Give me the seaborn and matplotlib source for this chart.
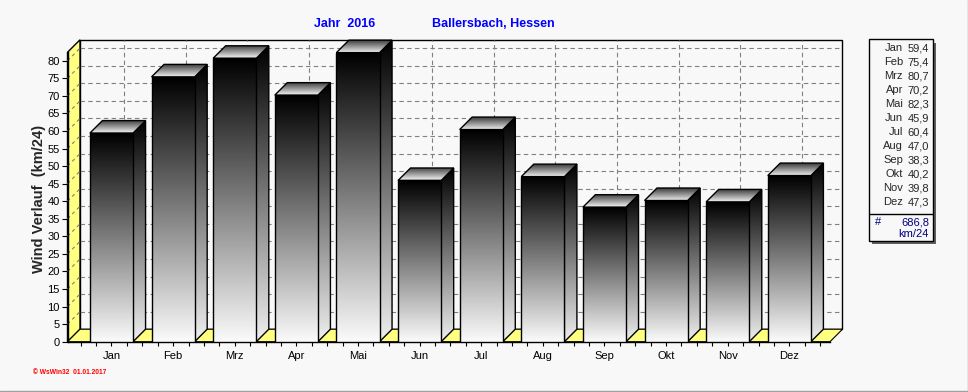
import numpy as np
import pandas as pd
import seaborn as sns
import matplotlib.pyplot as plt
from matplotlib.colors import LinearSegmentedColormap
from matplotlib.patches import Polygon, Rectangle
from matplotlib.lines import Line2D

# data
months = ['Jan', 'Feb', 'Mrz', 'Apr', 'Mai', 'Jun', 'Jul', 'Aug', 'Sep', 'Okt', 'Nov', 'Dez']
wind = [59.4, 75.4, 80.7, 70.2, 82.3, 45.9, 60.4, 47.0, 38.3, 40.2, 39.8, 47.3]
total = 686.8
unit = 'km/24'
year = 2016
station = 'Ballersbach, Hessen'
y_ticks = list(range(0, 85, 5))

W, H = 968, 392
BG = '#f8f8f8'
YELLOW = '#ffff80'
GRID = '#808080'


def fx(px):
    return px / W


def fy(py):
    return 1 - py / H


def comma(v):
    return f'{v:.1f}'.replace('.', ',')


sns.set_style('white')
plt.rcParams['font.family'] = ['Liberation Sans', 'DejaVu Sans']

fig = plt.figure(figsize=(W / 100, H / 100), dpi=100, facecolor=BG)

# front plane of the fake 3d box (pixel positions)
x_left, x_right = 67.5, 830
y_zero, y_top = 341.7, 52.3
xlim = (-0.714, 11.66)
ylim = (0, 82.4)
ax = fig.add_axes([fx(x_left), fy(y_zero), fx(x_right) - fx(x_left), fy(y_top) - fy(y_zero)])
ax.set_facecolor('none')

depth = 12.5
dx = depth * (xlim[1] - xlim[0]) / (x_right - x_left)
dy = depth * (ylim[1] - ylim[0]) / (y_zero - y_top)

df = pd.DataFrame({'Monat': months, 'Wind': wind})
sns.barplot(data=df, x='Monat', y='Wind', width=0.7, color='white',
            edgecolor='black', linewidth=1, errorbar=None, ax=ax)
bars = list(ax.patches)

# back wall + grid
bx0, bx1 = xlim[0] + dx, xlim[1] + dx
ax.add_patch(Rectangle((bx0, dy), bx1 - bx0, ylim[1], facecolor=BG, edgecolor='black',
                       lw=1, zorder=0.5, clip_on=False))
for v in y_ticks[1:]:
    ax.plot([bx0, bx1], [v + dy] * 2, color=GRID, lw=0.8, ls=(0, (4, 3)), zorder=1, clip_on=False)
for i in range(len(months)):
    ax.plot([i + dx] * 2, [dy, ylim[1] + dy], color=GRID, lw=0.8, ls=(0, (4, 3)), zorder=1, clip_on=False)

# yellow left wall and floor
ax.add_patch(Polygon([(xlim[0], 0), (xlim[0] + dx, dy), (xlim[0] + dx, ylim[1] + dy), (xlim[0], ylim[1])],
                     closed=True, facecolor=YELLOW, edgecolor='black', lw=1, zorder=2, clip_on=False))
for v in y_ticks[1:]:
    ax.plot([xlim[0], xlim[0] + dx], [v, v + dy], color=GRID, lw=0.8, ls=(0, (3, 3)), zorder=2.1, clip_on=False)
ax.add_patch(Polygon([(xlim[0], 0), (xlim[1], 0), (xlim[1] + dx, dy), (xlim[0] + dx, dy)],
                     closed=True, facecolor=YELLOW, edgecolor='black', lw=0.8, zorder=2, clip_on=False))

# gradient bars
front_cmap = LinearSegmentedColormap.from_list('front', ['#fbfbfb', '#000000'])
side_cmap = LinearSegmentedColormap.from_list('side', ['#f0f0f0', '#000000'])
top_cmap = LinearSegmentedColormap.from_list('top', ['#f4f4f4', '#3a3a3a'])
grad = np.linspace(0, 1, 256).reshape(-1, 1)


def shade(patch, extent, cmap, z):
    im = ax.imshow(grad, extent=extent, origin='lower', aspect='auto', cmap=cmap,
                   vmin=0, vmax=1, interpolation='bilinear', zorder=z)
    im.set_clip_path(patch)
    im.set_clip_box(fig.bbox)


for i, p in enumerate(bars):
    x0 = p.get_x()
    x1 = x0 + p.get_width()
    h = p.get_height()
    z = 3 + i * 0.1

    side = Polygon([(x1, 0), (x1 + dx, dy), (x1 + dx, h + dy), (x1, h)], closed=True,
                   facecolor='none', edgecolor='black', lw=1, zorder=z + 0.02, clip_on=False)
    ax.add_patch(side)
    shade(side, [x1, x1 + dx, 0, h + dy], side_cmap, z + 0.01)

    top = Polygon([(x0, h), (x1, h), (x1 + dx, h + dy), (x0 + dx, h + dy)], closed=True,
                  facecolor='none', edgecolor='black', lw=1, zorder=z + 0.04, clip_on=False)
    ax.add_patch(top)
    shade(top, [x0, x1 + dx, h, h + dy], top_cmap, z + 0.03)

    p.set_facecolor('none')
    p.set_zorder(z + 0.06)
    shade(p, [x0, x1, 0, h], front_cmap, z + 0.05)

# axes
ax.set_xlim(xlim)
ax.set_ylim(ylim)
ax.set_yticks(y_ticks)
ax.set_xticks(range(len(months)), months)
ax.set_xticks(np.arange(-0.5, 11.75, 0.25), minor=True)
ax.set_xlabel('')
ax.set_ylabel('')
ax.tick_params(axis='y', left=True, length=4, width=0.8, pad=1.5, labelsize=8, colors='black')
ax.tick_params(axis='x', which='both', bottom=True, length=3, width=0.8, pad=4, labelsize=8, colors='black')
for s in ['top', 'right']:
    ax.spines[s].set_visible(False)
for s in ['left', 'bottom']:
    ax.spines[s].set_color('black')
    ax.spines[s].set_linewidth(1)

# texts
fig.text(fx(345), fy(24), f'Jahr  {year}', ha='center', va='center', color='#0000ff', weight='bold', size=9)
fig.text(fx(493), fy(24), station, ha='center', va='center', color='#0000ff', weight='bold', size=9)
fig.text(fx(39.5), fy(199), f'Wind Verlauf  ({unit})', rotation=90, ha='center', va='center',
         weight='bold', size=10.5)
fig.text(fx(33), fy(372), '\u00a9 WsWin32  01.01.2017', color='#ff0000', size=4.8, weight='bold', va='center')

# value box on the right
fig.add_artist(Rectangle((fx(872), fy(244)), fx(936) - fx(872), fy(43) - fy(244),
                         transform=fig.transFigure, facecolor='#606060', edgecolor='none'))
fig.add_artist(Rectangle((fx(869), fy(241)), fx(933) - fx(869), fy(39) - fy(241),
                         transform=fig.transFigure, facecolor=BG, edgecolor='black', lw=1))
fig.add_artist(Line2D([fx(869), fx(933)], [fy(214)] * 2, transform=fig.transFigure, color='black', lw=1))
for i, (m, v) in enumerate(zip(months, wind)):
    y = fy(48.3 + 14 * i)
    fig.text(fx(903), y, m, ha='right', va='center', size=8)
    fig.text(fx(929), y, comma(v), ha='right', va='center', size=8)
fig.text(fx(878), fy(222.5), '#', ha='center', va='center', size=8, color='#000080')
fig.text(fx(929), fy(222.5), comma(total), ha='right', va='center', size=8, color='#000080')
fig.text(fx(929), fy(234), unit, ha='right', va='center', size=8, color='#000080')

# image border
fig.add_artist(Line2D([fx(967.5)] * 2, [0, 1], transform=fig.transFigure, color='#a0a0a0', lw=1))
fig.add_artist(Line2D([0, 1], [fy(391)] * 2, transform=fig.transFigure, color='#a0a0a0', lw=1))

fig.savefig('out.png', dpi=100, facecolor=BG)
